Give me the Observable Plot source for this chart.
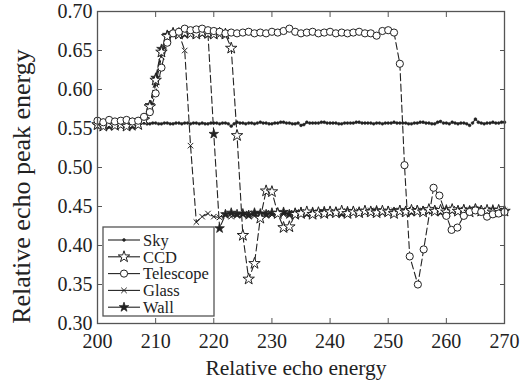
<!DOCTYPE html>
<html><head><meta charset="utf-8">
<script src="https://cdn.jsdelivr.net/npm/d3@7"></script>
<script src="https://cdn.jsdelivr.net/npm/@observablehq/plot@0.6"></script>
<style>body{margin:0;background:#fff} #chart{position:relative;width:525px;height:380px}
#chart svg, #chart svg text {font-family: "Liberation Serif", "Times New Roman", Tinos, "DejaVu Serif", serif !important;}</style>
</head><body><div id="chart"></div><script>
const seriesNames = ["Sky", "CCD", "Telescope", "Glass", "Wall"];
const xTicks = [200, 210, 220, 230, 240, 250, 260, 270];
const yTicks = [0.30, 0.35, 0.40, 0.45, 0.50, 0.55, 0.60, 0.65, 0.70];

const energy = [200,201,202,203,204,205,206,207,208,209,210,211,212,213,214,215,216,217,218,219,220,221,222,223,224,225,226,227,228,229,230,231,232,233,234,235,236,237,238,239,240,241,242,243,244,245,246,247,248,249,250,251,252,253,254,255,256,257,258,259,260,261,262,263,264,265,266,267,268,269,270];

const skyEnergy = [200,200.5,201,201.5,202,202.5,203,203.5,204,204.5,205,205.5,206,206.5,207,207.5,208,208.5,209,209.5,210,210.5,211,211.5,212,212.5,213,213.5,214,214.5,215,215.5,216,216.5,217,217.5,218,218.5,219,219.5,220,220.5,221,221.5,222,222.5,223,223.5,224,224.5,225,225.5,226,226.5,227,227.5,228,228.5,229,229.5,230,230.5,231,231.5,232,232.5,233,233.5,234,234.5,235,235.5,236,236.5,237,237.5,238,238.5,239,239.5,240,240.5,241,241.5,242,242.5,243,243.5,244,244.5,245,245.5,246,246.5,247,247.5,248,248.5,249,249.5,250,250.5,251,251.5,252,252.5,253,253.5,254,254.5,255,255.5,256,256.5,257,257.5,258,258.5,259,259.5,260,260.5,261,261.5,262,262.5,263,263.5,264,264.5,265,265.5,266,266.5,267,267.5,268,268.5,269,269.5,270];
const sky = [0.556,0.557,0.555,0.556,0.557,0.556,0.555,0.556,0.557,0.556,0.555,0.556,0.557,0.556,0.556,0.557,0.557,0.556,0.556,0.557,0.557,0.556,0.556,0.557,0.557,0.556,0.556,0.557,0.557,0.556,0.557,0.557,0.556,0.557,0.557,0.556,0.557,0.556,0.556,0.557,0.557,0.557,0.556,0.557,0.557,0.556,0.553,0.556,0.558,0.557,0.557,0.556,0.557,0.557,0.556,0.557,0.558,0.557,0.557,0.556,0.556,0.557,0.557,0.558,0.558,0.557,0.557,0.556,0.556,0.557,0.554,0.555,0.558,0.557,0.557,0.557,0.557,0.558,0.558,0.557,0.557,0.557,0.557,0.556,0.556,0.557,0.557,0.557,0.557,0.558,0.558,0.557,0.557,0.557,0.557,0.556,0.557,0.557,0.556,0.557,0.557,0.557,0.558,0.557,0.557,0.557,0.557,0.556,0.556,0.557,0.557,0.558,0.558,0.557,0.557,0.556,0.556,0.558,0.559,0.557,0.557,0.556,0.558,0.557,0.556,0.557,0.557,0.556,0.554,0.557,0.562,0.558,0.557,0.556,0.557,0.557,0.558,0.557,0.557,0.558,0.558];

const ccd = [0.555,0.553,0.556,0.554,0.555,0.553,0.556,0.555,0.561,0.578,0.612,0.648,0.668,0.672,0.671,0.673,0.672,0.671,0.673,0.672,0.671,0.672,0.671,0.653,0.541,0.413,0.357,0.377,0.435,0.470,0.469,0.441,0.423,0.424,0.440,0.441,0.443,0.440,0.442,0.441,0.443,0.442,0.444,0.441,0.443,0.442,0.444,0.443,0.442,0.444,0.443,0.441,0.444,0.443,0.445,0.444,0.443,0.446,0.444,0.445,0.443,0.446,0.444,0.445,0.443,0.446,0.444,0.445,0.443,0.445,0.444];

const glass = [0.556,0.554,0.555,0.557,0.553,0.556,0.554,0.556,0.560,0.574,0.606,0.642,0.666,0.671,0.672,0.650,0.528,0.430,0.437,0.441,0.437,0.436,0.439,0.437,0.440,0.439,0.441,0.438,0.440,0.442,0.439,0.441,0.440,0.442,0.441,0.443,0.440,0.442,0.443,0.441,0.443,0.442,0.444,0.443,0.442,0.444,0.443,0.445,0.443,0.444,0.442,0.445,0.444,0.443,0.446,0.444,0.445,0.443,0.446,0.444,0.445,0.447,0.444,0.446,0.445,0.447,0.444,0.446,0.445,0.443,0.445];

const wall = [0.554,0.556,0.553,0.555,0.556,0.554,0.553,0.555,0.562,0.580,0.615,0.652,0.670,0.672,0.673,0.671,0.672,0.673,0.672,0.671,0.543,0.422,0.440,0.442,0.440,0.441,0.439,0.442,0.441,0.440,0.442,0.441,0.443,0.440,0.442,0.443,0.441,0.443,0.442,0.444,0.442,0.443,0.441,0.444,0.443,0.442,0.444,0.443,0.445,0.443,0.444,0.443,0.445,0.444,0.443,0.445,0.444,0.446,0.445,0.443,0.446,0.445,0.444,0.446,0.445,0.447,0.445,0.444,0.446,0.445,0.444];

const telescopeEnergy = [200,201,202,203,204,205,206,207,208,209,210,211,212,213,214,215,216,217,218,219,220,221,222,223,224,225,226,227,228,229,230,231,232,233,234,235,236,237,238,239,240,241,242,243,244,245,246,247,248,249,250,251,252,252.8,253.7,255.1,256.1,257.8,258.8,260,260.9,261.9,263,264,265,266,267,268,269,270];
const telescope = [0.560,0.558,0.561,0.559,0.560,0.561,0.559,0.560,0.565,0.571,0.595,0.628,0.660,0.672,0.674,0.678,0.676,0.677,0.678,0.676,0.675,0.674,0.672,0.673,0.672,0.673,0.674,0.672,0.673,0.672,0.674,0.673,0.675,0.678,0.674,0.672,0.673,0.674,0.672,0.673,0.674,0.672,0.673,0.672,0.673,0.674,0.672,0.672,0.669,0.675,0.676,0.673,0.633,0.503,0.386,0.350,0.395,0.474,0.464,0.438,0.420,0.423,0.438,0.443,0.445,0.443,0.437,0.440,0.441,0.443];

const rows = (xs, ys, name) => xs.map((x, i) => ({x, y: ys[i], name}));
const skyData = rows(skyEnergy, sky, "Sky");
const ccdData = rows(energy, ccd, "CCD");
const telData = rows(telescopeEnergy, telescope, "Telescope");
const glassData = rows(energy, glass, "Glass");
const wallData = rows(energy, wall, "Wall");

const ink = "#222";
const dash = "7,3.5";
const lineOpts = {x: "x", y: "y", stroke: ink, strokeWidth: 1.1, strokeDasharray: dash};

const styles = {
  Sky: {symbol: "circle", r: 1.4, fill: ink, stroke: ink, strokeWidth: 0.6},
  CCD: {symbol: "star", r: 3.6, fill: "white", stroke: ink, strokeWidth: 1},
  Telescope: {symbol: "circle", r: 3.6, fill: "white", stroke: ink, strokeWidth: 1},
  Glass: {symbol: "times", r: 2.6, fill: "none", stroke: ink, strokeWidth: 1},
  Wall: {symbol: "star", r: 3, fill: ink, stroke: ink, strokeWidth: 0.8}
};
const serif = "'Liberation Serif', 'Times New Roman', Tinos, 'DejaVu Serif', serif";

const chart = Plot.plot({
  width: 525, height: 380,
  marginLeft: 97, marginRight: 21, marginTop: 11, marginBottom: 57,
  style: {fontFamily: serif, background: "white", color: ink},
  x: {domain: [200, 270]},
  y: {domain: [0.30, 0.70]},
  marks: [
    Plot.line(skyData, lineOpts),
    Plot.dot(skyData, {x: "x", y: "y", ...styles.Sky}),
    Plot.line(glassData, lineOpts),
    Plot.line(wallData, lineOpts),
    Plot.line(ccdData, lineOpts),
    Plot.line(telData, lineOpts),
    Plot.dot(glassData, {x: "x", y: "y", ...styles.Glass}),
    Plot.dot(wallData, {x: "x", y: "y", ...styles.Wall}),
    Plot.dot(ccdData, {x: "x", y: "y", ...styles.CCD}),
    Plot.dot(telData, {x: "x", y: "y", ...styles.Telescope}),
    Plot.frame({stroke: "#555", strokeWidth: 1.3}),
    Plot.axisX(xTicks, {anchor: "bottom", tickSize: -5, tickPadding: 15, fontSize: 20, tickFormat: d => d, label: null, stroke: "#555"}),
    Plot.axisX(xTicks, {anchor: "top", tickSize: -5, tickFormat: () => "", label: null, stroke: "#555"}),
    Plot.axisY(yTicks, {anchor: "left", tickSize: -5, tickPadding: 10, fontSize: 20, tickFormat: d3.format(".2f"), label: null, stroke: "#555"}),
    Plot.axisY(yTicks, {anchor: "right", tickSize: -5, tickFormat: () => "", label: null, stroke: "#555"}),
    Plot.text(["Relative echo energy"], {frameAnchor: "bottom", lineAnchor: "middle", textAnchor: "middle", dx: -5, dy: 45, fontSize: 21.5, fill: ink}),
    Plot.text(["Relative echo peak energy"], {frameAnchor: "left", textAnchor: "middle", lineAnchor: "middle", dx: -76, dy: 19, rotate: -90, fontSize: 26, fill: ink})
  ]
});
document.getElementById("chart").appendChild(chart);

// Legend
const svg = d3.select(chart);
const lg = svg.append("g").attr("font-family", serif).attr("font-size", 16.5).attr("fill", ink).attr("text-anchor", "start");
lg.append("rect").attr("x", 103).attr("y", 227).attr("width", 111).attr("height", 89)
  .attr("fill", "white").attr("stroke", "#555").attr("stroke-width", 1.3);
const symMap = {circle: d3.symbolCircle, star: d3.symbolStar, times: d3.symbolTimes};
seriesNames.forEach((name, i) => {
  const y = 240 + i * 16.8;
  const s = styles[name];
  lg.append("line").attr("x1", 108).attr("x2", 140).attr("y1", y).attr("y2", y)
    .attr("stroke", ink).attr("stroke-width", 1.1);
  lg.append("path").attr("transform", `translate(124,${y})`)
    .attr("d", d3.symbol(symMap[s.symbol], Math.PI * s.r * s.r)())
    .attr("fill", s.fill).attr("stroke", s.stroke).attr("stroke-width", s.strokeWidth);
  lg.append("text").attr("x", 143).attr("y", y).attr("dy", "0.35em").text(name);
});
</script></body></html>
